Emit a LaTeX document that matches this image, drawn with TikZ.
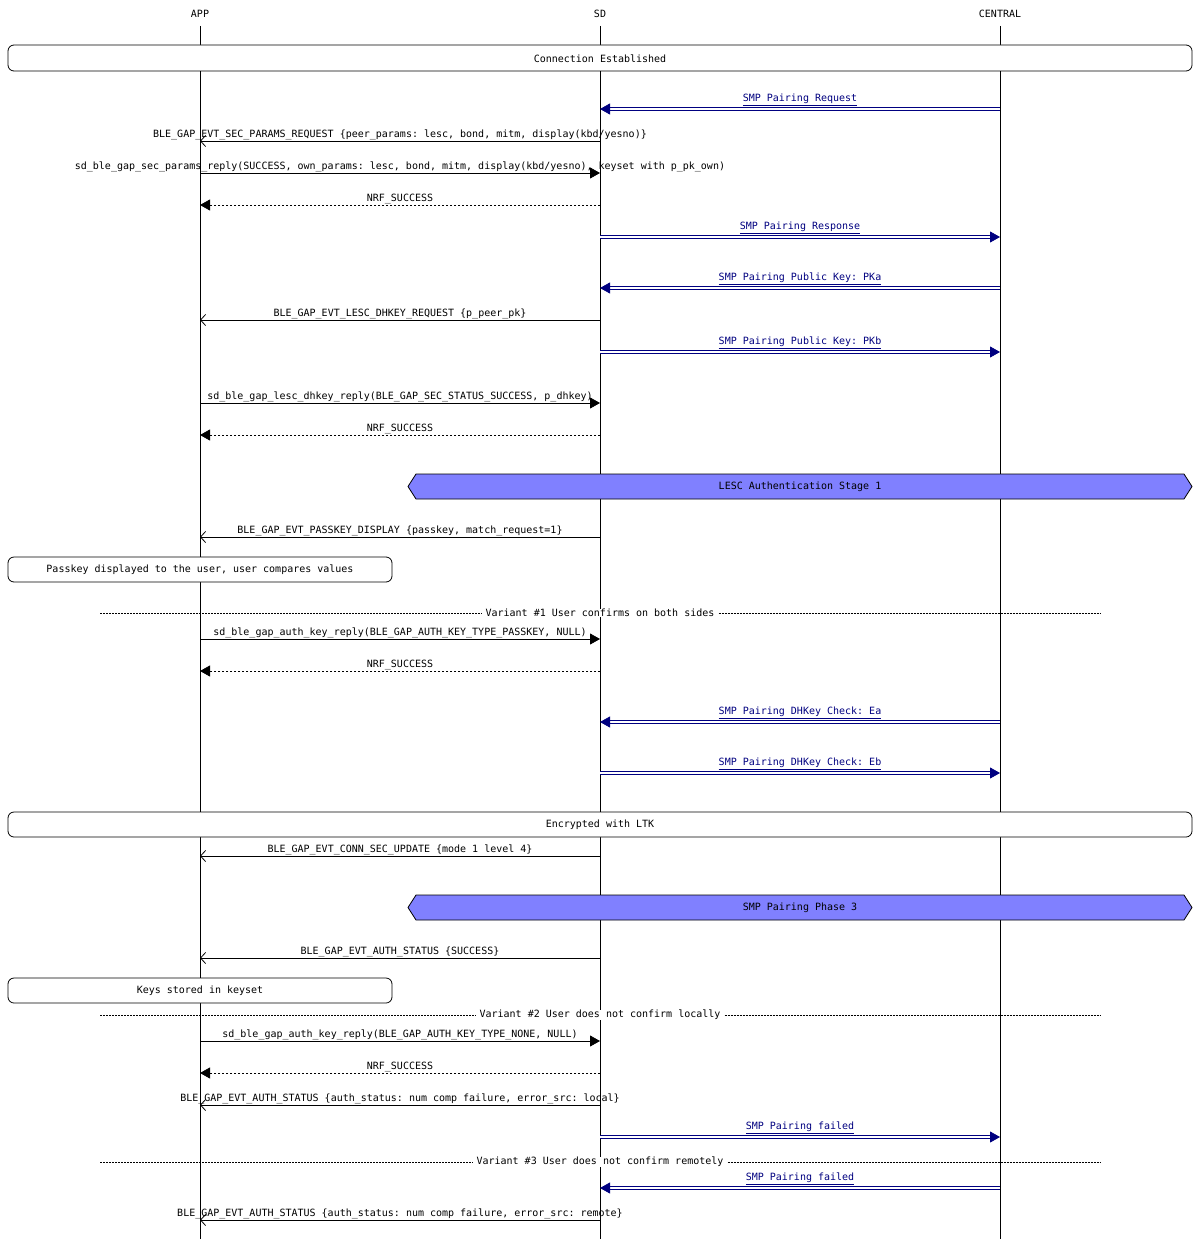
\documentclass[tikz,border=0pt]{standalone}
\usepackage{fontspec}
\setmonofont{DejaVu Sans Mono}
\usetikzlibrary{arrows.meta}
\definecolor{hexfill}{RGB}{128,128,255}
\definecolor{smpblue}{RGB}{0,0,128}
\tikzset{
  every node/.style={font=\ttfamily\fontsize{10}{12}\selectfont, inner sep=0pt},
  life/.style={draw=black, line width=0.8pt},
  call/.style={draw=black, line width=0.8pt, -{Triangle[length=10pt,width=11pt]}},
  ret/.style={draw=black, line width=0.8pt, dashed, dash pattern=on 2pt off 2pt, -{Triangle[length=10pt,width=11pt]}},
  evt/.style={draw=black, line width=0.8pt, -{Straight Barb[length=5pt,width=11pt]}},
  smp/.style={draw=smpblue, double=white, double distance=1.6pt, line width=0.8pt, -{Triangle[length=10pt,width=11pt,fill=smpblue]}},
  lbl/.style={above=1pt},
  rbox/.style={draw, fill=white, rounded corners=6pt, line width=0.8pt},
  hexbox/.style={draw, fill=hexfill, line width=0.8pt},
  divider/.style={draw, line width=0.6pt, dash pattern=on 2pt off 1pt}
}
\newcounter{mc}
% \mymsg{y}{fromx}{tox}{style}{label}
\newcommand{\mymsg}[5]{%
  \stepcounter{mc}%
  \coordinate (s\themc) at (#2,#1);
  \coordinate (e\themc) at (#3,#1);
  \draw[#4] (s\themc) -- (e\themc);
  \node[lbl] (l\themc) at ($(s\themc)!0.5!(e\themc)$) {#5};
}
\newcommand{\mysmp}[4]{%
  \stepcounter{mc}%
  \coordinate (s\themc) at (#2,#1);
  \coordinate (e\themc) at (#3,#1);
  \draw[smp] (s\themc) -- (e\themc);
  \node[lbl, text=smpblue, above=2pt] (l\themc) at ($(s\themc)!0.5!(e\themc)$) {\underline{#4}};
}
\usetikzlibrary{calc}
\begin{document}
\begin{tikzpicture}[x=1pt,y=-1pt]
\useasboundingbox[fill=white] (0,0) rectangle (1200,1239);
\node (app) at (200,14) {APP};
\node (sd) at (600,14) {SD};
\node (central) at (1000,14) {CENTRAL};
\coordinate (append) at (200,1239);
\coordinate (sdend) at (600,1239);
\coordinate (centralend) at (1000,1239);
\draw[life] (200,26) -- (append);
\draw[life] (600,26) -- (sdend);
\draw[life] (1000,26) -- (centralend);

\draw[rbox] (8,45) rectangle (1192,71);
\node (b1) at (600,58.5) {Connection Established};

\mysmp{109}{1000}{600}{SMP Pairing Request}
\mymsg{141}{600}{200}{evt}{BLE\_GAP\_EVT\_SEC\_PARAMS\_REQUEST \{peer\_params: lesc, bond, mitm, display(kbd/yesno)\}}
\mymsg{173}{200}{600}{call}{sd\_ble\_gap\_sec\_params\_reply(SUCCESS, own\_params: lesc, bond, mitm, display(kbd/yesno), keyset with p\_pk\_own)}
\mymsg{205}{600}{200}{ret}{NRF\_SUCCESS}
\mysmp{237}{600}{1000}{SMP Pairing Response}
\mysmp{288}{1000}{600}{SMP Pairing Public Key: PKa}
\mymsg{320}{600}{200}{evt}{BLE\_GAP\_EVT\_LESC\_DHKEY\_REQUEST \{p\_peer\_pk\}}
\mysmp{352}{600}{1000}{SMP Pairing Public Key: PKb}
\mymsg{403}{200}{600}{call}{sd\_ble\_gap\_lesc\_dhkey\_reply(BLE\_GAP\_SEC\_STATUS\_SUCCESS, p\_dhkey)}
\mymsg{435}{600}{200}{ret}{NRF\_SUCCESS}

\draw[hexbox] (416,474) -- (1184,474) -- (1192,486.5) -- (1184,499) -- (416,499) -- (408,486.5) -- cycle;
\node (h1) at (800,486.5) {LESC Authentication Stage 1};

\mymsg{537}{600}{200}{evt}{BLE\_GAP\_EVT\_PASSKEY\_DISPLAY \{passkey, match\_request=1\}}
\draw[rbox] (8,557) rectangle (392,582);
\node (b2) at (200,569.5) {Passkey displayed to the user, user compares values};

\node[fill=white, inner xsep=4pt] (v1) at (600,613) {Variant \#1 User confirms on both sides};
\draw[divider] (100,613) -- (v1.west);
\draw[divider] (v1.east) -- (1100,613);

\mymsg{639}{200}{600}{call}{sd\_ble\_gap\_auth\_key\_reply(BLE\_GAP\_AUTH\_KEY\_TYPE\_PASSKEY, NULL)}
\mymsg{671}{600}{200}{ret}{NRF\_SUCCESS}
\mysmp{722}{1000}{600}{SMP Pairing DHKey Check: Ea}
\mysmp{773}{600}{1000}{SMP Pairing DHKey Check: Eb}

\draw[rbox] (8,812) rectangle (1192,837);
\node (b3) at (600,824.5) {Encrypted with LTK};

\mymsg{856}{600}{200}{evt}{BLE\_GAP\_EVT\_CONN\_SEC\_UPDATE \{mode 1 level 4\}}

\draw[hexbox] (416,895) -- (1184,895) -- (1192,907.5) -- (1184,920) -- (416,920) -- (408,907.5) -- cycle;
\node (h2) at (800,907.5) {SMP Pairing Phase 3};

\mymsg{958}{600}{200}{evt}{BLE\_GAP\_EVT\_AUTH\_STATUS \{SUCCESS\}}
\draw[rbox] (8,978) rectangle (392,1003);
\node (b4) at (200,990.5) {Keys stored in keyset};

\node[fill=white, inner xsep=4pt] (v2) at (600,1015) {Variant \#2 User does not confirm locally};
\draw[divider] (100,1015) -- (v2.west);
\draw[divider] (v2.east) -- (1100,1015);

\mymsg{1041}{200}{600}{call}{sd\_ble\_gap\_auth\_key\_reply(BLE\_GAP\_AUTH\_KEY\_TYPE\_NONE, NULL)}
\mymsg{1073}{600}{200}{ret}{NRF\_SUCCESS}
\mymsg{1105}{600}{200}{evt}{BLE\_GAP\_EVT\_AUTH\_STATUS \{auth\_status: num comp failure, error\_src: local\}}
\mysmp{1137}{600}{1000}{SMP Pairing failed}

\node[fill=white, inner xsep=4pt] (v3) at (600,1162) {Variant \#3 User does not confirm remotely};
\draw[divider] (100,1162) -- (v3.west);
\draw[divider] (v3.east) -- (1100,1162);

\mysmp{1188}{1000}{600}{SMP Pairing failed}
\mymsg{1220}{600}{200}{evt}{BLE\_GAP\_EVT\_AUTH\_STATUS \{auth\_status: num comp failure, error\_src: remote\}}
\end{tikzpicture}
\end{document}
